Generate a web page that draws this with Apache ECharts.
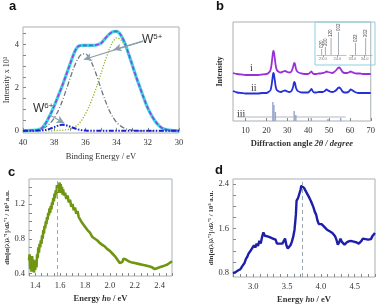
<!DOCTYPE html>
<html><head><meta charset="utf-8">
<script src="https://cdn.jsdelivr.net/npm/echarts@6/dist/echarts.min.js"></script>
<style>html,body{margin:0;padding:0;background:#fff}#c{width:378px;height:307px}</style>
</head><body><div id="c"></div>
<script>
// ---------- Panel a: XPS W4f ----------
const aEnergy = [40,39.5,39,38.75,38.5,38.25,38,37.75,37.5,37.25,37,36.75,36.5,36.25,36,35.75,35.5,35.25,35,34.75,34.5,34.25,34,33.75,33.5,33.25,33,32.75,32.5,32.25,32,31.75,31.5,31.25,31,30.5,30];
const aEnvelope = [0,0.02,0.05,0.15,0.4,0.75,1.15,1.6,2.05,2.55,3.05,3.55,3.88,3.95,3.95,3.95,3.95,3.98,4.05,4.25,4.45,4.58,4.6,4.45,4.1,3.6,3.05,2.5,2.0,1.5,1.05,0.7,0.42,0.22,0.1,0.02,0];
const aW5a = [0,0.01,0.05,0.11,0.2,0.36,0.59,0.92,1.34,1.85,2.39,2.9,3.3,3.54,3.56,3.37,2.99,2.49,1.95,1.44,0.99,0.65,0.39,0.23,0.12,0.06,0.03,0.01,0,0,0,0,0,0,0,0,0];
const aW5b = [0,0,0,0,0,0,0.01,0.02,0.03,0.05,0.08,0.15,0.28,0.48,0.78,1.15,1.6,2.1,2.65,3.2,3.7,4.1,4.3,4.22,3.98,3.55,3.02,2.5,2.0,1.5,1.05,0.7,0.42,0.22,0.1,0.02,0];
const aW6 = [0,0,0.01,0.03,0.05,0.1,0.17,0.24,0.28,0.26,0.2,0.13,0.07,0.03,0.01,0,0,0,0,0,0,0,0,0,0,0,0,0,0,0,0,0,0,0,0,0,0];
const aXLabels = [40,38,36,34,32,30];
const aYLabels = [0,2,4];

// ---------- Panel b: XRD ----------
const bAngle = [4,6,8,10,12,14,16,18,20,21,22,22.5,23,23.3,23.6,24,24.5,25,26,27,28,29,30,31,32,32.8,33.3,33.7,34.2,35,36,37,38,39,40,41,41.6,42.3,43,44,45,46,47,48,48.8,49.6,50.5,51.5,52.5,53.5,54.3,55,55.7,56.5,57.5,58.5,59.5,60.3,61,62,63,64,65,66,67,68,69,70];
const bCurveI = [48,47,46.5,46,46,46,46,46.5,47,48,51,57,66,70,69,63,55,51,49,48.5,49.5,50,49,48.5,49.5,54,58,57,52,49,48,47.5,47,47,47,48.5,49.5,47.5,47,47,47.5,47.5,48,48.5,49.5,49,48.5,48,49,51,53,53.5,51.5,49,48,48,48.5,49.5,49,48,47.5,47.5,47.5,47,47,47,47,47];
const bCurveII = [30,28.5,28,27.5,27.5,27.5,27.5,28,28,29,31,36,44,48,47,41,34,31,29.5,29,30,30.5,29.5,29,30,34,39,38,33,30,29,28.5,28.5,28.5,28.5,30.5,32,29.5,28.5,28.5,29,29,29,30,31.5,30.5,29.5,29,29.5,31,33,33.5,32,29.5,28.5,28.5,29.5,31.5,31,29.5,28.5,28,28,28,28,28,28,28];
const bRefAngle = [23.1,23.6,24.3,33.3,34.1,41.5,49.5,55.6];
const bRefHeight = [23,20,13,14,10,7,6,7];
const bRefBase = 4;
const bXLabels = [10,20,30,40,50,60,70];
const bInsetLAngle = [22.92,23.18,23.57,24.08];
const bInsetLHeight = [6,8,17,23];
const bInsetLNames = ['020','200','120','002'];
const bInsetRAngle = [33.25,34.08];
const bInsetRHeight = [12,17];
const bInsetRNames = ['022','202'];

// ---------- Panel c ----------
const cEnergy = [1.350,1.355,1.360,1.365,1.370,1.375,1.380,1.385,1.390,1.395,1.400,1.405,1.410,1.415,1.420,1.425,1.430,1.435,1.440,1.445,1.450,1.455,1.460,1.465,1.470,1.475,1.480,1.485,1.490,1.495,1.500,1.505,1.510,1.515,1.520,1.525,1.530,1.535,1.540,1.545,1.550,1.555,1.560,1.565,1.570,1.575,1.580,1.585,1.590,1.595,1.600,1.605,1.610,1.615,1.620,1.625,1.630,1.640,1.650,1.660,1.670,1.680,1.690,1.700,1.710,1.720,1.730,1.740,1.750,1.760,1.770,1.780,1.790,1.800,1.820,1.840,1.860,1.880,1.900,1.920,1.940,1.960,1.980,2.000,2.020,2.040,2.060,2.080,2.090,2.100,2.110,2.120,2.130,2.150,2.170,2.200,2.230,2.260,2.290,2.320,2.340,2.360,2.370,2.380,2.400,2.420,2.440,2.460,2.480,2.500];
const cValue = [0.55,0.62,0.45,0.58,0.42,0.60,0.48,0.56,0.41,0.50,0.44,0.55,0.47,0.62,0.58,0.70,0.64,0.74,0.70,0.78,0.74,0.84,0.80,0.90,0.86,0.95,0.92,1.00,0.97,1.05,1.02,1.10,1.07,1.15,1.10,1.18,1.14,1.22,1.19,1.27,1.23,1.32,1.27,1.36,1.31,1.42,1.34,1.40,1.33,1.45,1.36,1.43,1.33,1.40,1.31,1.37,1.30,1.33,1.26,1.30,1.22,1.25,1.17,1.20,1.13,1.16,1.09,1.12,1.05,1.07,1.00,1.02,0.96,0.97,0.90,0.87,0.82,0.80,0.78,0.75,0.73,0.71,0.68,0.66,0.63,0.60,0.56,0.52,0.50,0.53,0.57,0.58,0.56,0.54,0.53,0.52,0.51,0.50,0.49,0.48,0.47,0.45,0.44,0.46,0.47,0.48,0.49,0.50,0.52,0.54];
const cXLabels = [1.4,1.6,1.8,2.0,2.2,2.4];
const cYLabels = [0.4,0.8,1.2];
const cMarker = 1.58;

// ---------- Panel d ----------
const dEnergy = [2.70,2.74,2.78,2.81,2.84,2.87,2.89,2.91,2.93,2.95,2.97,2.99,3.01,3.03,3.05,3.07,3.09,3.11,3.13,3.15,3.17,3.19,3.21,3.23,3.25,3.27,3.29,3.31,3.33,3.35,3.37,3.39,3.41,3.43,3.45,3.47,3.49,3.51,3.53,3.55,3.57,3.59,3.61,3.63,3.64,3.66,3.68,3.70,3.71,3.73,3.75,3.77,3.79,3.81,3.83,3.85,3.87,3.89,3.91,3.93,3.95,3.97,3.99,4.01,4.03,4.05,4.07,4.09,4.11,4.13,4.15,4.17,4.19,4.21,4.23,4.25,4.27,4.29,4.31,4.33,4.35,4.38,4.41,4.44,4.47,4.50,4.53,4.56,4.58,4.60,4.62,4.64,4.66,4.68,4.70,4.72,4.74,4.76,4.78,4.80];
const dValue = [0.80,0.82,0.85,0.87,0.93,0.98,1.05,1.09,1.15,1.12,1.22,1.25,1.30,1.26,1.33,1.29,1.38,1.33,1.45,1.53,1.47,1.50,1.46,1.49,1.44,1.46,1.42,1.43,1.40,1.33,1.35,1.33,1.34,1.33,1.35,1.42,1.30,1.24,1.27,1.30,1.36,1.45,1.58,1.85,2.10,2.14,2.16,2.30,2.37,2.36,2.33,2.30,2.24,2.22,2.15,2.10,2.04,1.98,1.90,1.85,1.74,1.68,1.66,1.68,1.65,1.63,1.62,1.58,1.60,1.55,1.57,1.52,1.50,1.46,1.40,1.31,1.35,1.42,1.36,1.33,1.31,1.35,1.37,1.38,1.37,1.36,1.35,1.33,1.33,1.38,1.42,1.40,1.41,1.39,1.40,1.38,1.41,1.46,1.49,1.52];
const dXLabels = [3.0,3.5,4.0,4.5];
const dYLabels = [0.8,1.6,2.4];
const dMarker = 3.72;

// ---------- build ----------
const zip = (xs, ys) => xs.map((x, i) => [x, ys[i]]);
const SERIF = 'Liberation Serif';
const TXT = '#333';
const FRAME = '#aab0b4';
function range(a, b, s) { const r = []; for (let v = a; v <= b + 1e-9; v += s) r.push(+v.toFixed(4)); return r; }
function xAx(grid, min, max, labels, ticks, fmt, name, extra) {
  return Object.assign({
    type: 'value', gridIndex: grid, min, max,
    axisLine: { show: false }, splitLine: { show: false },
    axisTick: { show: true, inside: true, length: 3, customValues: ticks, lineStyle: { color: '#888' } },
    axisLabel: { customValues: labels, formatter: fmt, fontFamily: SERIF, fontSize: 8.5, color: TXT, margin: 5 },
    name, nameLocation: 'middle', nameGap: 18,
  }, extra || {});
}
function yAx(grid, min, max, labels, ticks, fmt, name, extra) {
  return Object.assign({
    type: 'value', gridIndex: grid, min, max,
    axisLine: { show: false }, splitLine: { show: false },
    axisTick: { show: true, inside: true, length: 3, customValues: ticks, lineStyle: { color: '#888' } },
    axisLabel: { customValues: labels, formatter: fmt, fontFamily: SERIF, fontSize: 8.5, color: TXT, margin: 4 },
    name, nameLocation: 'middle', nameRotate: 90, nameGap: 12,
  }, extra || {});
}
const f1 = v => v.toFixed(1);
const f0 = v => String(Math.round(v));
const boldName = { fontFamily: SERIF, fontSize: 8, fontWeight: 'bold', color: TXT };
const eName = { fontFamily: SERIF, fontSize: 8.5, fontWeight: 'bold', color: TXT,
  rich: { b: { fontFamily: SERIF, fontSize: 8.5, fontWeight: 'bold', color: TXT },
          i: { fontFamily: SERIF, fontSize: 8.5, fontWeight: 'bold', fontStyle: 'italic', color: TXT } } };
const dlnName = 'dln[α(λ)λ⁻¹]/dλ⁻¹ / 10³ a.u.';

function insetAxes(grid, min, max, labels) {
  return [
    { type: 'value', gridIndex: grid, min, max, axisLine: { show: true, lineStyle: { color: '#999', width: 0.6 } },
      splitLine: { show: false }, axisTick: { show: true, length: 2, customValues: labels, lineStyle: { color: '#999' } },
      axisLabel: { customValues: labels, formatter: f1, fontSize: 4, color: '#777', margin: 2 } },
    { type: 'value', gridIndex: grid, min: 0, max: 30, show: false }
  ];
}
const insL = insetAxes(2, 22.6, 24.6, [23.0, 24.0]);
const insR = insetAxes(3, 32.8, 34.6, [33.0, 34.0]);

const stickLabel = names => ({ show: true, position: 'top', rotate: 90, align: 'left', verticalAlign: 'middle', distance: 1,
  fontSize: 4.5, fontFamily: 'Liberation Sans', color: '#444', formatter: p => names[p.dataIndex] });

const option = {
  animation: false,
  backgroundColor: '#fff',
  grid: [
    { left: 23, top: 27, width: 156, height: 106, show: true, borderColor: FRAME, borderWidth: 1, backgroundColor: 'transparent' },
    { left: 233, top: 22, width: 142, height: 99, show: true, borderColor: FRAME, borderWidth: 1, backgroundColor: 'transparent' },
    { left: 317, top: 25, width: 29, height: 30 },
    { left: 350, top: 25, width: 22, height: 30 },
    { left: 29, top: 179, width: 143, height: 97, show: true, borderColor: FRAME, borderWidth: 1, backgroundColor: 'transparent' },
    { left: 233, top: 179, width: 142, height: 98, show: true, borderColor: FRAME, borderWidth: 1, backgroundColor: 'transparent' }
  ],
  xAxis: [
    xAx(0, 30, 40, aXLabels, range(30, 40, 1), f0, 'Binding Energy / eV',
      { inverse: true, nameGap: 19, nameTextStyle: { fontFamily: SERIF, fontSize: 8.5, color: TXT } }),
    xAx(1, 4, 70, bXLabels, bXLabels, f0, '{b|Diffraction angle }{i|2θ / degree}', { nameGap: 18, nameTextStyle: eName }),
    insL[0], insR[0],
    xAx(4, 1.35, 2.5, cXLabels, range(1.35, 2.5, 0.05), f1, '{b|Energy }{i|hυ}{b| / eV}', { nameGap: 18, nameTextStyle: eName }),
    xAx(5, 2.7, 4.8, dXLabels, range(2.7, 4.8, 0.1), f1, '{b|Energy }{i|hυ}{b| / eV}', { nameGap: 18, nameTextStyle: eName })
  ],
  yAxis: [
    yAx(0, -0.1, 4.8, aYLabels, range(0, 4.5, 0.5), f0, 'Intensity x 10³',
      { nameGap: 12, nameTextStyle: { fontFamily: SERIF, fontSize: 8, color: TXT } }),
    { type: 'value', gridIndex: 1, min: 0, max: 99, axisLine: { show: false }, axisTick: { show: false },
      axisLabel: { show: false }, splitLine: { show: false },
      name: 'Intensity', nameLocation: 'middle', nameRotate: 90, nameGap: 9, nameTextStyle: boldName },
    insL[1], insR[1],
    yAx(4, 0.37, 1.49, cYLabels, range(0.4, 1.4, 0.1), f1, dlnName, { nameGap: 16, nameTextStyle: Object.assign({}, boldName, { fontSize: 7 }) }),
    yAx(5, 0.73, 2.49, dYLabels, range(0.8, 2.4, 0.2), f1, dlnName, { nameGap: 12, nameTextStyle: Object.assign({}, boldName, { fontSize: 7 }) })
  ],
  series: [
    // panel a
    { type: 'line', xAxisIndex: 0, yAxisIndex: 0, data: zip(aEnergy, aW5a), showSymbol: false, smooth: 0.3,
      lineStyle: { color: '#6d7683', width: 1.3, type: [5, 2, 1, 2] } },
    { type: 'line', xAxisIndex: 0, yAxisIndex: 0, data: zip(aEnergy, aW5b), showSymbol: false, smooth: 0.3,
      lineStyle: { color: '#8fb526', width: 1.3, type: [1.2, 1.6] } },
    { type: 'line', xAxisIndex: 0, yAxisIndex: 0, data: zip(aEnergy, aEnvelope), showSymbol: false, smooth: 0.3,
      lineStyle: { color: '#36d8df', width: 3.2 } },
    { type: 'line', xAxisIndex: 0, yAxisIndex: 0, data: zip(aEnergy, aEnvelope), showSymbol: false, smooth: 0.3,
      lineStyle: { color: '#9a3fe0', width: 1.6, type: [4, 2] } },
    { type: 'line', xAxisIndex: 0, yAxisIndex: 0, data: zip(aEnergy, aW6), showSymbol: false, smooth: 0.3,
      lineStyle: { color: '#1c22d0', width: 2, type: [5, 1.5, 1.5, 1.5, 1.5, 1.5] },
      markLine: { silent: true, symbol: ['none', 'arrow'], symbolSize: [6, 8], label: { show: false },
        lineStyle: { color: '#8aa0ad', width: 1.2, type: 'solid' },
        data: [
          [{ coord: [32.3, 4.15] }, { coord: [36.1, 3.3] }],
          [{ coord: [32.3, 4.15] }, { coord: [34.2, 3.75] }],
          [{ coord: [38.25, 0.72] }, { coord: [37.35, 0.35] }]
        ] } },
    // panel b
    { type: 'line', xAxisIndex: 1, yAxisIndex: 1, data: zip(bAngle, bCurveI), showSymbol: false, smooth: 0.2,
      lineStyle: { color: '#9b30d8', width: 1.8 } },
    { type: 'line', xAxisIndex: 1, yAxisIndex: 1, data: zip(bAngle, bCurveII), showSymbol: false, smooth: 0.2,
      lineStyle: { color: '#2530d8', width: 1.8 } },
    { type: 'line', xAxisIndex: 1, yAxisIndex: 1, data: [[6, bRefBase], [58, bRefBase]], showSymbol: false,
      lineStyle: { color: '#a0a4b0', width: 0.8 } },
    { type: 'bar', xAxisIndex: 1, yAxisIndex: 1, stack: 'ref', barWidth: 1.4, silent: true,
      data: bRefAngle.map(a => [a, bRefBase]), itemStyle: { color: 'rgba(0,0,0,0)' } },
    { type: 'bar', xAxisIndex: 1, yAxisIndex: 1, stack: 'ref', barWidth: 1.4,
      data: bRefAngle.map((a, i) => [a, bRefHeight[i] - bRefBase]), itemStyle: { color: '#97a3cc' } },
    { type: 'bar', xAxisIndex: 2, yAxisIndex: 2, barWidth: 0.8, data: zip(bInsetLAngle, bInsetLHeight),
      itemStyle: { color: '#a8acb4' }, label: stickLabel(bInsetLNames) },
    { type: 'bar', xAxisIndex: 3, yAxisIndex: 3, barWidth: 0.8, data: zip(bInsetRAngle, bInsetRHeight),
      itemStyle: { color: '#a8acb4' }, label: stickLabel(bInsetRNames) },
    // panel c
    { type: 'line', xAxisIndex: 4, yAxisIndex: 4, data: zip(cEnergy, cValue), showSymbol: false,
      lineStyle: { color: '#6f9512', width: 2.6 },
      markLine: { silent: true, symbol: 'none', label: { show: false }, lineStyle: { color: '#9aa8b2', width: 1, type: [4, 3] },
        data: [{ xAxis: cMarker }] } },
    // panel d
    { type: 'line', xAxisIndex: 5, yAxisIndex: 5, data: zip(dEnergy, dValue), showSymbol: false,
      lineStyle: { color: '#1d1fa8', width: 2.4 },
      markLine: { silent: true, symbol: 'none', label: { show: false }, lineStyle: { color: '#9aa8b2', width: 1, type: [4, 3] },
        data: [{ xAxis: dMarker }] } }
  ],
  graphic: [
    { type: 'rect', shape: { x: 315, y: 22, width: 60, height: 43 }, style: { fill: 'none', stroke: '#8ccfe0', lineWidth: 1 }, silent: true },
    { type: 'text', left: 9, top: 0, style: { text: 'a', font: 'bold 13px "Liberation Sans"', fill: '#111' } },
    { type: 'text', left: 216, top: 0, style: { text: 'b', font: 'bold 13px "Liberation Sans"', fill: '#111' } },
    { type: 'text', left: 8, top: 166, style: { text: 'c', font: 'bold 13px "Liberation Sans"', fill: '#111' } },
    { type: 'text', left: 215, top: 164, style: { text: 'd', font: 'bold 13px "Liberation Sans"', fill: '#111' } },
    { type: 'text', left: 142, top: 33, style: { text: '{m|W}{s|5+}', rich: { m: { font: '12px "Liberation Sans"', fill: '#333' }, s: { font: '8px "Liberation Sans"', fill: '#333', verticalAlign: 'top', padding: [0, 0, 6, 0] } } } },
    { type: 'text', left: 33, top: 102, style: { text: '{m|W}{s|6+}', rich: { m: { font: '12px "Liberation Sans"', fill: '#333' }, s: { font: '8px "Liberation Sans"', fill: '#333', padding: [0, 0, 6, 0] } } } },
    { type: 'text', left: 250, top: 63, style: { text: 'i', font: '10px "Liberation Serif"', fill: '#333' } },
    { type: 'text', left: 251, top: 83, style: { text: 'ii', font: '10px "Liberation Serif"', fill: '#333' } },
    { type: 'text', left: 237, top: 109, style: { text: 'iii', font: '10px "Liberation Serif"', fill: '#333' } }
  ]
};
const chart = echarts.init(document.getElementById('c'), null, { renderer: 'canvas' });
chart.setOption(option);
</script></body></html>
